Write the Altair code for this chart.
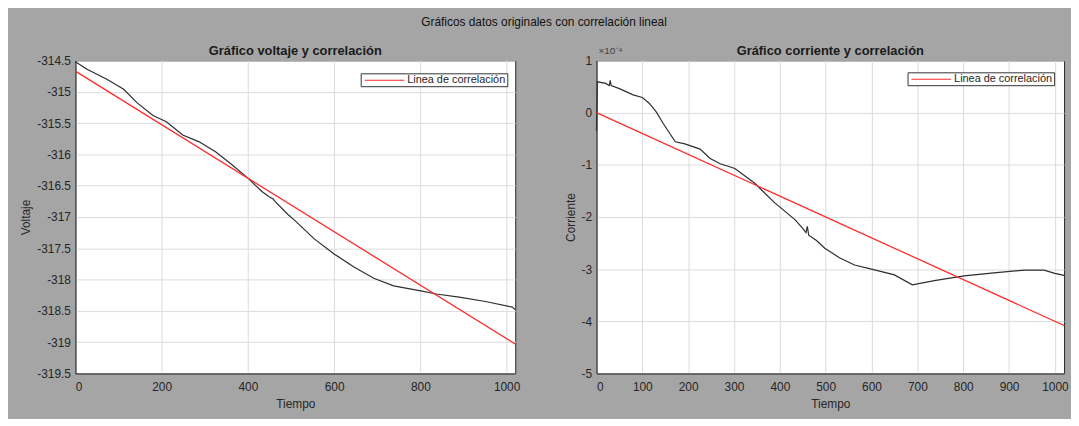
import altair as alt
import pandas as pd

# ---- data ----
t_volt = [0, 27, 73, 112, 142, 180, 211, 249, 287, 325, 364, 400, 432, 450, 458, 463, 493,
          508, 554, 600, 646, 692, 738, 801, 837, 890, 951, 1013, 1020]
voltage = [-314.52, -314.64, -314.80, -314.96, -315.17, -315.38, -315.48, -315.69, -315.80,
           -315.96, -316.17, -316.38, -316.59, -316.68, -316.71, -316.75, -316.96,
           -317.05, -317.35, -317.59, -317.80, -317.98, -318.10, -318.18, -318.23,
           -318.28, -318.35, -318.44, -318.48]
volt_fit_t = [0, 1020]
volt_fit = [-314.67, -319.03]

t_curr = [0, 2, 20, 28, 30, 32, 50, 80, 100, 115, 130, 145, 160, 172, 193, 226, 248, 270,
          302, 346, 389, 433, 450, 457, 460, 463, 480, 498, 530, 563, 600, 650, 689, 737,
          802, 867, 933, 976, 1000, 1020]
current = [-0.35, 0.59, 0.56, 0.52, 0.62, 0.52, 0.46, 0.34, 0.29, 0.18, 0.02, -0.2, -0.4,
           -0.56, -0.6, -0.7, -0.88, -0.98, -1.07, -1.36, -1.73, -2.05, -2.22, -2.3,
           -2.18, -2.35, -2.45, -2.6, -2.78, -2.92, -3.0, -3.11, -3.3, -3.22, -3.13,
           -3.07, -3.02, -3.02, -3.08, -3.12]
curr_fit_t = [0, 1020]
curr_fit = [0.0, -4.08]

legend_label = "Linea de correlación"
exponent_label = ["×10⁻⁴"]

FONT = "Liberation Sans"
TXT = "#262626"
RED = "#ff2a2a"

v_df = pd.DataFrame({"Tiempo": t_volt, "Valor": voltage})
vf_df = pd.DataFrame({"Tiempo": volt_fit_t, "Valor": volt_fit, "serie": legend_label})
c_df = pd.DataFrame({"Tiempo": t_curr, "Valor": current})
cf_df = pd.DataFrame({"Tiempo": curr_fit_t, "Valor": curr_fit, "serie": legend_label})
exp_df = pd.DataFrame({"t": exponent_label})


def make_legend(lx, ly):
    return alt.Legend(title=None, orient="none", legendX=lx, legendY=ly, fillColor="white",
                      strokeColor="#333333", padding=1, symbolType="M-0.6,0H7.4",
                      symbolSize=100, symbolStrokeWidth=1.2, symbolStrokeColor=RED,
                      labelFontSize=11, labelColor=TXT, labelFont=FONT, labelLimit=300,
                      cornerRadius=0, labelOffset=34, rowPadding=0)


def exp_mark(opacity):
    return alt.Chart(exp_df).mark_text(
        align="left", baseline="middle", fontSize=10, color="#444444", font=FONT,
        opacity=opacity
    ).encode(x=alt.value(2), y=alt.value(-10), text="t:N")


def make_panel(df, fdf, title, ytitle, ydom, yvals, xvals, width, height, extra, leg):
    x = alt.X("Tiempo:Q", scale=alt.Scale(domain=[0, 1020], nice=False),
              axis=alt.Axis(title="Tiempo", values=xvals, labelExpr="'' + datum.value",
                            labelPadding=8, titlePadding=6))
    y = alt.Y("Valor:Q", scale=alt.Scale(domain=ydom, nice=False, zero=False),
              axis=alt.Axis(title=ytitle, values=yvals, labelExpr="'' + datum.value"))
    data_line = alt.Chart(df).mark_line(color="#2e2e2e", strokeWidth=1.2).encode(x=x, y=y)
    fit_line = alt.Chart(fdf).mark_line(strokeWidth=1.3).encode(
        x=x, y=y,
        color=alt.Color("serie:N", scale=alt.Scale(range=[RED]), legend=leg))
    return alt.layer(data_line, fit_line, extra).properties(
        width=width, height=height,
        title=alt.TitleParams(title, fontSize=13, fontWeight="bold", color="#1a1a1a",
                              font=FONT, offset=-13, anchor="middle"))


left = make_panel(v_df, vf_df, "Gráfico voltaje y correlación", "Voltaje",
                  [-319.5, -314.5], [-319.5 + 0.5 * i for i in range(11)],
                  [0, 200, 400, 600, 800, 1000], 444, 316, exp_mark(0),
                  make_legend(288, 13))
right = make_panel(c_df, cf_df, "Gráfico corriente y correlación", "Corriente",
                   [-5, 1], [-5, -4, -3, -2, -1, 0, 1],
                   [0, 100, 200, 300, 400, 500, 600, 700, 800, 900, 1000], 472, 316,
                   exp_mark(1), make_legend(314, 12))

chart = alt.hconcat(left, right, spacing=42).resolve_scale(color="independent").resolve_legend(
    color="independent"
).properties(
    title=alt.TitleParams("Gráficos datos originales con correlación lineal", fontSize=12,
                          fontWeight="normal", color="#111111", font=FONT, anchor="middle",
                          offset=16),
    padding={"left": 11, "top": 6, "right": 2, "bottom": 7},
    background="#a5a5a5",
).configure_view(
    fill="white", stroke="#262626", strokeWidth=1
).configure_axis(
    labelFont=FONT, titleFont=FONT, labelFontSize=12, titleFontSize=12,
    labelColor=TXT, titleColor=TXT, titleFontWeight="normal",
    domainColor="#262626", gridColor="#dcdcdc", ticks=False,
    labelPadding=5, titlePadding=4
)

chart.save("out.html", embed_options={"renderer": "svg", "actions": False})
